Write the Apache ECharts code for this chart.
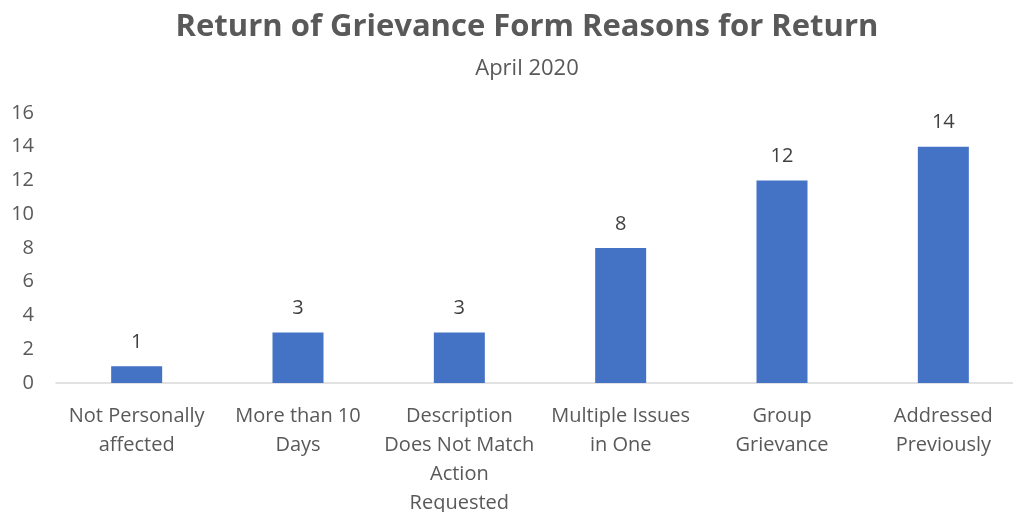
<!DOCTYPE html>
<html>
<head>
<meta charset="utf-8">
<script src="https://cdn.jsdelivr.net/npm/echarts@6/dist/echarts.min.js"></script>
<style>
  html, body { margin: 0; padding: 0; background: #fff; overflow: hidden; }
  #chart { width: 1013px; height: 512px; }
</style>
</head>
<body>
<div id="chart"></div>
<script>
const categories = [
  'Not Personally\naffected',
  'More than 10\nDays',
  'Description\nDoes Not Match\nAction\nRequested',
  'Multiple Issues\nin One',
  'Group\nGrievance',
  'Addressed\nPreviously'
]
const returnCounts = [1, 3, 3, 8, 12, 14]
const yTicks = { min: 0, max: 16, interval: 2 }

const textColor = '#595959'
const font = 'Open Sans'

const chart = echarts.init(document.getElementById('chart'))

const option = {
  animation: false,
  title: {
    text: 'Return of Grievance Form Reasons for Return',
    subtext: 'April 2020',
    left: 522,
    textAlign: 'center',
    top: 7,
    itemGap: 15,
    textStyle: { fontFamily: font, fontSize: 31, fontWeight: 'bold', color: textColor },
    subtextStyle: { fontFamily: font, fontSize: 22, color: textColor }
  },
  grid: {
    left: 56,
    top: 113,
    width: 968,
    bottom: 129,
    containLabel: false,
    outerBoundsMode: 'none'
  },
  xAxis: {
    type: 'category',
    data: categories,
    axisLine: { lineStyle: { color: '#d9d9d9', width: 1.5 } },
    axisTick: { show: false },
    axisLabel: {
      interval: 0,
      margin: 19,
      fontFamily: font,
      fontSize: 20,
      lineHeight: 29,
      color: textColor
    }
  },
  yAxis: {
    type: 'value',
    min: yTicks.min,
    max: yTicks.max,
    interval: yTicks.interval,
    axisLine: { show: false },
    axisTick: { show: false },
    splitLine: { show: false },
    axisLabel: {
      margin: 22,
      fontFamily: font,
      fontSize: 20,
      color: textColor
    }
  },
  series: [
    {
      type: 'bar',
      data: returnCounts,
      barWidth: 51,
      itemStyle: { color: '#4472c4' },
      label: {
        show: true,
        position: 'top',
        distance: 14,
        fontFamily: font,
        fontSize: 20,
        color: '#404040'
      }
    }
  ]
}

chart.setOption(option)
</script>
</body>
</html>
